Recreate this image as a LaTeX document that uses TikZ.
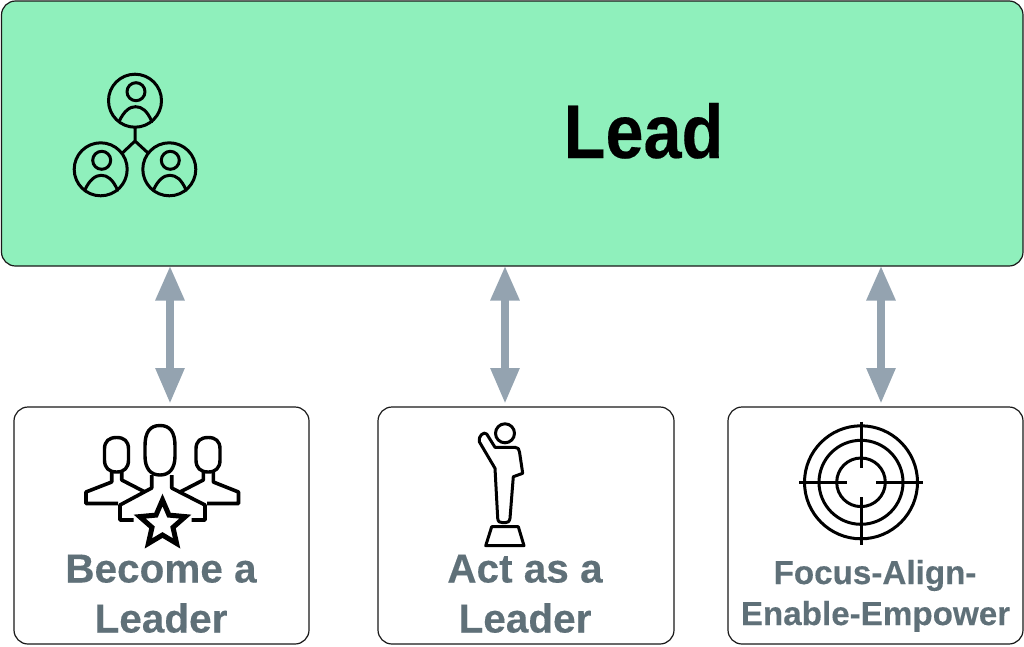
\documentclass[tikz,border=0pt]{standalone}
\usepackage{fontspec}
\setmainfont{Liberation Sans}[BoldFont={Liberation Sans Bold},BoldFeatures={FakeBold=0.25}]
\newfontfamily\titlefont{Liberation Sans Bold}[FakeStretch=0.9,FakeBold=0.25]
\usetikzlibrary{arrows.meta}
\definecolor{leadgreen}{HTML}{8FF0BC}
\definecolor{arrowgrey}{HTML}{94A3B0}
\definecolor{labelgrey}{HTML}{5F7078}
\tikzset{
  panel/.style={draw=black!90,line width=1.2pt,rounded corners=14pt,inner sep=0pt,outer sep=0pt,fill=white},
  twoway/.style={draw=arrowgrey,line width=8.5pt,{Triangle[width=27pt,length=35pt,fill=arrowgrey]}-{Triangle[width=27pt,length=36pt,fill=arrowgrey]}},
  glyph/.style={draw=black,line width=3pt,line join=round,line cap=round},
  heavy/.style={glyph,line width=3.6pt,line join=round,line cap=butt},
  biglabel/.style={font=\bfseries\fontsize{40.5}{40}\selectfont,text=labelgrey,anchor=base,inner sep=0pt},
  smalllabel/.style={font=\bfseries\fontsize{33.2}{33}\selectfont,text=labelgrey,anchor=base,inner sep=0pt},
  person/.pic={
    \draw[glyph] (0,0) circle (26.5pt);
    \draw[glyph] (1,-9) circle (9pt);
    \draw[glyph] (-16,21) .. controls (-11,10) and (-5,6) .. (0.5,6) .. controls (7,6) and (12,10) .. (17,21);
  }
}
\begin{document}
\begin{tikzpicture}[x=1pt,y=-1pt]
\useasboundingbox (0,0) rectangle (1024,646);

% double-headed connectors, under the panels
\coordinate (upA) at (170,265.5);
\coordinate (downA) at (170,404);
\coordinate (upB) at (505,265.5);
\coordinate (downB) at (505,404);
\coordinate (upC) at (881,265.5);
\coordinate (downC) at (881,404);
\draw[twoway] (upA) -- (downA);
\draw[twoway] (upB) -- (downB);
\draw[twoway] (upC) -- (downC);

% panels
\node[panel,fill=leadgreen,minimum width=1021.5pt,minimum height=265pt] (lead) at (512.25,133.5) {};
\node[panel,minimum width=295pt,minimum height=237pt] (become) at (161.5,525.5) {};
\node[panel,minimum width=296pt,minimum height=237pt] (act) at (526,525.5) {};
\node[panel,minimum width=295pt,minimum height=237pt] (focus) at (875.5,525.5) {};

% titles and labels
\node[font=\titlefont\fontsize{76}{76}\selectfont,anchor=base,inner sep=0pt] (leadtext) at (643.5,158) {Lead};
\node[biglabel] (becomeA) at (161,582.5) {Become a};
\node[biglabel] (becomeB) at (161,632.5) {Leader};
\node[biglabel] (actA) at (525,582.5) {Act as a};
\node[biglabel] (actB) at (525,632.5) {Leader};
\node[smalllabel] (focusA) at (875,584) {Focus-Align-};
\node[smalllabel] (focusB) at (875.5,625) {Enable-Empower};

% network of three people
\pic at (135,100.7) {person};
\pic at (100.7,169.3) {person};
\pic at (169.3,169.3) {person};
\draw[glyph,line cap=butt] (135,128) -- (135,141) (122.7,152.7) -- (135,141) -- (147.7,152.7);

% leader among a group
\draw[glyph,line width=3.4pt] (145,446) .. controls (145,432) and (150,425.5) .. (160,425.5) .. controls (170,425.5) and (175,432) .. (175,446) -- (175,456) .. controls (175,469) and (169,475) .. (160,475) .. controls (151,475) and (145,469) .. (145,456) -- cycle;
\draw[glyph,line width=3.4pt] (104.5,449) .. controls (104.5,441) and (109,437.5) .. (116.7,437.5) .. controls (124,437.5) and (128.5,441) .. (128.5,449) -- (128.5,460) .. controls (128.5,468) and (124,472) .. (116.7,472) .. controls (109,472) and (104.5,468) .. (104.5,460) -- cycle;
\draw[glyph,line width=3.4pt] (196,449) .. controls (196,441) and (200.5,437.5) .. (208.3,437.5) .. controls (215.5,437.5) and (220,441) .. (220,449) -- (220,460) .. controls (220,468) and (215.5,472) .. (208.3,472) .. controls (200.5,472) and (196,468) .. (196,460) -- cycle;
\draw[heavy] (151.7,475) -- (151.7,488) -- (120,505) -- (120,520) -- (133.5,520);
\draw[heavy] (171.7,475) -- (171.7,488) -- (205,505) -- (205,520) -- (191.5,520);
\draw[heavy] (111.7,472) -- (111.7,482) -- (86,492) -- (86,503.5) -- (118,503.5);
\draw[heavy] (121.7,472) -- (121.7,480) -- (145,492);
\draw[heavy] (213.3,472) -- (213.3,482) -- (238.5,492) -- (238.5,503.5) -- (207,503.5);
\draw[heavy] (203.3,472) -- (203.3,480) -- (180,492);
\draw[heavy,line width=5pt,line join=miter] (162.5,500) -- (169,515.1) -- (185.3,516.6) -- (173,527.4) -- (176.6,543.4) -- (162.5,535) -- (148.4,543.4) -- (152,527.4) -- (139.7,516.6) -- (156,515.1) -- cycle;

% statuette on its plinth
\draw[glyph] (505,433.3) circle (9.5pt);
\draw[glyph] (495,447.3) -- (515,447.3) .. controls (518,447.3) and (519.3,449) .. (519.5,452) -- (522.7,473.3) -- (513.3,476.7) -- (510,518.3) .. controls (509.5,522) and (507,522.7) .. (505,522.7) -- (503,522.7) .. controls (500,522.7) and (498,522) .. (497.7,518.3) -- (495,468.3) -- (479.3,441.7) .. controls (478,436) and (484,431) .. (486.7,434) -- cycle;
\draw[glyph] (491.7,526.7) -- (518.3,526.7) -- (524,545.7) -- (485.7,545.7) -- cycle;

% target with crosshair
\draw[glyph] (861,482.3) circle (56.5pt);
\draw[glyph] (861,482.3) circle (42pt);
\draw[glyph] (861,482.3) circle (24.3pt);
\draw[glyph,line cap=butt] (861,421.7) -- (861,468) (861,497) -- (861,545) (799.3,482.3) -- (846.7,482.3) (876,482.3) -- (923,482.3);
\end{tikzpicture}
\end{document}
